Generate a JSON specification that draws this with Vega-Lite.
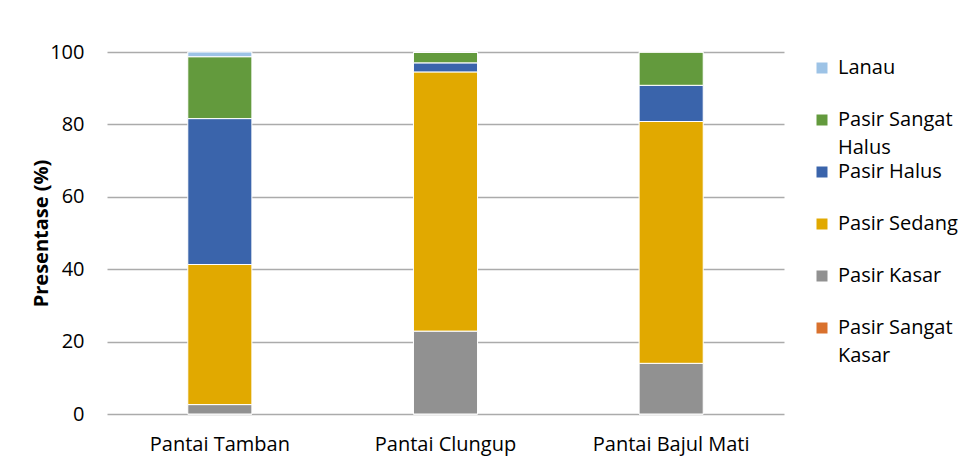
{
  "$schema": "https://vega.github.io/schema/vega-lite/v6.json",
  "width": 677,
  "height": 362,
  "autosize": {"type": "none"},
  "padding": {"left": 107, "top": 52, "right": 184, "bottom": 49},
  "background": "white",
  "config": {
    "font": "Open Sans",
    "view": {"stroke": null},
    "style": {"guide-label": {"lineHeight": 28}},
    "axis": {"labelColor": "#000000", "titleColor": "#000000", "labelFont": "Open Sans", "titleFont": "Open Sans"}
  },
  "data": {
    "values": [
      {"pantai": "Pantai Tamban", "jenis": "Pasir Sangat Kasar", "nilai": 0},
      {"pantai": "Pantai Tamban", "jenis": "Pasir Kasar", "nilai": 2.6},
      {"pantai": "Pantai Tamban", "jenis": "Pasir Sedang", "nilai": 38.7},
      {"pantai": "Pantai Tamban", "jenis": "Pasir Halus", "nilai": 40.3},
      {"pantai": "Pantai Tamban", "jenis": "Pasir Sangat Halus", "nilai": 17.1},
      {"pantai": "Pantai Tamban", "jenis": "Lanau", "nilai": 1.3},
      {"pantai": "Pantai Clungup", "jenis": "Pasir Sangat Kasar", "nilai": 0},
      {"pantai": "Pantai Clungup", "jenis": "Pasir Kasar", "nilai": 22.9},
      {"pantai": "Pantai Clungup", "jenis": "Pasir Sedang", "nilai": 71.6},
      {"pantai": "Pantai Clungup", "jenis": "Pasir Halus", "nilai": 2.5},
      {"pantai": "Pantai Clungup", "jenis": "Pasir Sangat Halus", "nilai": 2.9},
      {"pantai": "Pantai Clungup", "jenis": "Lanau", "nilai": 0.1},
      {"pantai": "Pantai Bajul Mati", "jenis": "Pasir Sangat Kasar", "nilai": 0},
      {"pantai": "Pantai Bajul Mati", "jenis": "Pasir Kasar", "nilai": 14},
      {"pantai": "Pantai Bajul Mati", "jenis": "Pasir Sedang", "nilai": 66.8},
      {"pantai": "Pantai Bajul Mati", "jenis": "Pasir Halus", "nilai": 10},
      {"pantai": "Pantai Bajul Mati", "jenis": "Pasir Sangat Halus", "nilai": 9.2},
      {"pantai": "Pantai Bajul Mati", "jenis": "Lanau", "nilai": 0}
    ]
  },
  "transform": [
    {"calculate": "indexof(['Lanau','Pasir Sangat Halus','Pasir Halus','Pasir Sedang','Pasir Kasar','Pasir Sangat Kasar'], datum.jenis)", "as": "urutan"}
  ],
  "mark": {"type": "bar", "stroke": "white", "strokeWidth": 1},
  "encoding": {
    "x": {
      "field": "pantai",
      "type": "nominal",
      "sort": ["Pantai Tamban", "Pantai Clungup", "Pantai Bajul Mati"],
      "scale": {"paddingInner": 0.716, "paddingOuter": 0.358},
      "axis": {"title": null, "labelAngle": 0, "labelFontSize": 20, "labelPadding": 20, "ticks": false, "domain": false}
    },
    "y": {
      "field": "nilai",
      "type": "quantitative",
      "stack": "zero",
      "scale": {"domain": [0, 100]},
      "axis": {
        "title": "Presentase (%)",
        "titleFontSize": 20,
        "titleFontWeight": "bold",
        "titlePadding": -2,
        "values": [0, 20, 40, 60, 80, 100],
        "labelFontSize": 20,
        "labelPadding": 23,
        "ticks": false,
        "domain": false,
        "gridColor": "#ababab",
        "gridWidth": 1.5
      }
    },
    "color": {
      "field": "jenis",
      "type": "nominal",
      "sort": ["Lanau", "Pasir Sangat Halus", "Pasir Halus", "Pasir Sedang", "Pasir Kasar", "Pasir Sangat Kasar"],
      "scale": {
        "domain": ["Lanau", "Pasir Sangat Halus", "Pasir Halus", "Pasir Sedang", "Pasir Kasar", "Pasir Sangat Kasar"],
        "range": ["#9dc3e6", "#639a3d", "#3a64ab", "#e1a900", "#919191", "#d9712d"]
      },
      "legend": {
        "title": null,
        "orient": "right",
        "offset": 22,
        "padding": 6,
        "symbolType": "square",
        "symbolSize": 121,
        "symbolStrokeWidth": 0,
        "labelFontSize": 20,
        "labelColor": "#000000",
        "labelOffset": 6,
        "labelBaseline": "middle",
        "labelLimit": 200,
        "gridAlign": "all",
        "rowPadding": 4,
        "labelExpr": "datum.label == 'Pasir Sangat Halus' ? ['Pasir Sangat', 'Halus'] : datum.label == 'Pasir Sangat Kasar' ? ['Pasir Sangat', 'Kasar'] : datum.label"
      }
    },
    "order": {"field": "urutan", "type": "quantitative", "sort": "descending"}
  }
}
